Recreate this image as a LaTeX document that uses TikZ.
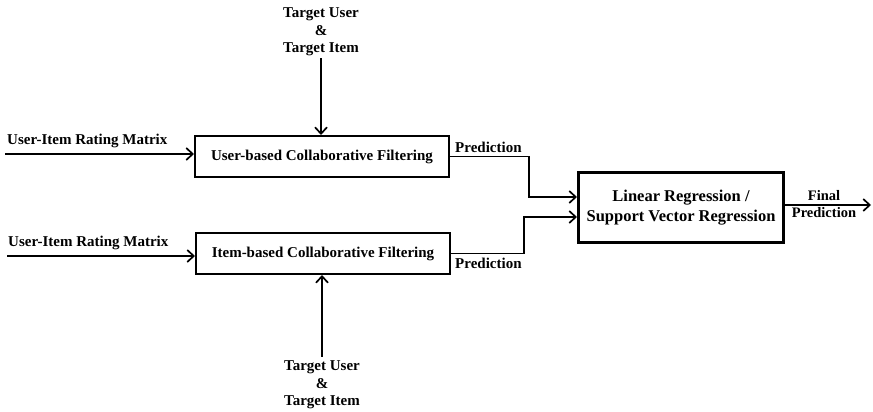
\documentclass[tikz,border=0pt]{standalone}
\usepackage{fontspec}
\setmainfont{Liberation Serif}
\usetikzlibrary{arrows.meta}
\begin{document}
\begin{tikzpicture}[x=1pt,y=-1pt,
  lbl/.style={font=\fontsize{15}{17}\selectfont\bfseries, inner sep=0pt, align=center},
  tgt/.style={lbl, font=\fontsize{15}{17.5}\selectfont\bfseries},
  cfbox/.style={draw, line width=2pt, minimum width=254pt, minimum height=41pt, inner sep=0pt, font=\fontsize{15}{17}\selectfont\bfseries},
  regbox/.style={draw, line width=3pt, minimum width=205pt, minimum height=70pt, inner sep=0pt, align=center, font=\fontsize{16.5}{20}\selectfont\bfseries},
  flow/.style={line width=1.7pt, -{Straight Barb[length=6.5pt,width=12pt,line width=1.7pt]}},
  wire/.style={line width=1.7pt}]
\useasboundingbox (0,0) rectangle (873,412);

% filtering blocks and the regression block
\node[cfbox] (ucf) at (322,156.5) {User-based Collaborative Filtering};
\node[cfbox] (icf) at (323,253.5) {Item-based Collaborative Filtering};
\node[regbox] (reg) at (681,207.5) {Linear Regression /\\Support Vector Regression};

% target inputs
\node[tgt] (tt) at (321,32) {Target User\\\&\\Target Item};
\node[tgt] (tb) at (322,385) {Target User\\\&\\Target Item};
\draw[flow] (tt.south) ++(0,2) coordinate (tts) -- (tts |- ucf.north);
\draw[flow] (tb.north) ++(0,-4) coordinate (tbn) -- (tbn |- icf.south);

% rating matrix inputs
\coordinate (m1) at (5,154);
\coordinate (m2) at (7,256);
\draw[flow] (m1) -- (m1 -| ucf.west);
\draw[flow] (m2) -- (m2 -| icf.west);
\node[lbl, anchor=south west] (l1) at (7,148) {User-Item Rating Matrix};
\node[lbl, anchor=south west] (l2) at (8,250) {User-Item Rating Matrix};

% predictions into the regression block
\coordinate (p1) at (529,156.5);
\coordinate (p2) at (524,253.5);
\draw[flow] (ucf.east) -- (p1) |- (reg.west |- 0,197);
\draw[flow] (icf.east) -- (p2) |- (reg.west |- 0,217);
\node[lbl, anchor=south west] (pl1) at (455,153) {Prediction};
\node[lbl, anchor=north west] (pl2) at (455,258) {Prediction};

% final output
\coordinate (out) at (871,205);
\draw[flow] (reg.east |- out) -- (out);
\node[lbl, font=\fontsize{14.5}{17}\selectfont\bfseries] (fl) at (824,204) {Final\\Prediction};
\end{tikzpicture}
\end{document}
